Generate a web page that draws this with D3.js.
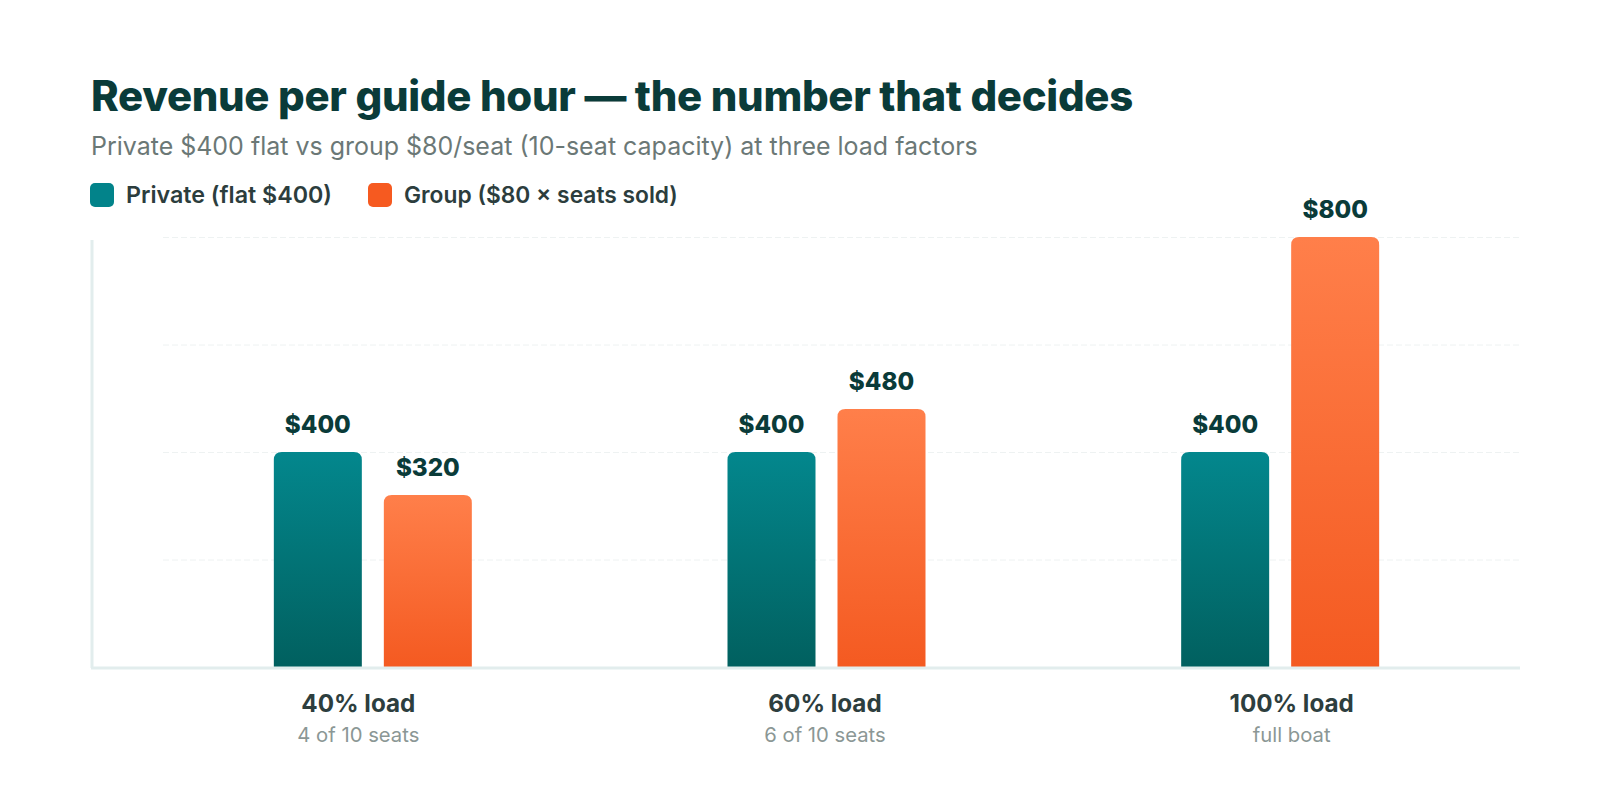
<!DOCTYPE html>
<html>
<head>
<meta charset="utf-8">
<script src="https://cdn.jsdelivr.net/npm/d3@7"></script>
<style>
  html, body { margin: 0; padding: 0; background: #ffffff; }
  svg { display: block; font-family: Inter, "Open Sans", sans-serif; }
</style>
</head>
<body>
<svg id="chart" width="1610" height="800"></svg>
<script>
// ---- data ----
const categories = ["40% load", "60% load", "100% load"];
const subLabels = ["4 of 10 seats", "6 of 10 seats", "full boat"];
const seriesNames = ["Private (flat $400)", "Group ($80 × seats sold)"];
const privateValues = [400, 400, 400];
const groupValues = [320, 480, 800];
const gridTicks = [200, 400, 600, 800];

const titleText = "Revenue per guide hour — the number that decides";
const subtitleText = "Private $400 flat vs group $80/seat (10-seat capacity) at three load factors";

const colors = {
  teal: ["#03878d", "#01605f"],
  orange: ["#ff7f4a", "#f45a21"],
  title: "#0a3b39",
  sub: "#6b7876",
  legend: "#2c3d3d",
  cat: "#2d3e3e",
  catSub: "#8b9795",
  axis: "#e2eded",
  grid: "#eef2f2"
};

const svg = d3.select("#chart");
const defs = svg.append("defs");

function grad(id, c) {
  const g = defs.append("linearGradient").attr("id", id)
    .attr("x1", 0).attr("y1", 0).attr("x2", 0).attr("y2", 1);
  g.append("stop").attr("offset", "0%").attr("stop-color", c[0]);
  g.append("stop").attr("offset", "100%").attr("stop-color", c[1]);
}
grad("gTeal", colors.teal);
grad("gOrange", colors.orange);

function fitSize(sel, target) {
  const fs = parseFloat(sel.attr("font-size"));
  const w = sel.node().getComputedTextLength();
  return w > 0 ? fs * target / w : fs;
}
function fit(sel, target) {
  sel.attr("font-size", fitSize(sel, target).toFixed(2));
  return sel;
}

// ---- header ----
fit(svg.append("text").attr("x", 91).attr("y", 111)
  .attr("font-size", 39).attr("font-weight", 800).attr("fill", colors.title)
  .attr("letter-spacing", -0.3)
  .text(titleText), 1041);

fit(svg.append("text").attr("x", 91).attr("y", 155)
  .attr("font-size", 22).attr("font-weight", 400).attr("fill", colors.sub)
  .text(subtitleText), 887);

// ---- legend ----
const legendItems = [
  { name: seriesNames[0], color: "#02838a", x: 90, w: 206 },
  { name: seriesNames[1], color: "#f65a20", x: 368, w: 274 }
];
legendItems.forEach(it => {
  svg.append("rect").attr("x", it.x).attr("y", 183).attr("width", 24).attr("height", 24)
    .attr("rx", 5).attr("fill", it.color);
  fit(svg.append("text").attr("x", it.x + 36).attr("y", 203)
    .attr("font-size", 21).attr("font-weight", 600).attr("fill", colors.legend)
    .text(it.name), it.w);
});

// ---- scales ----
const y = d3.scaleLinear().domain([0, 800]).range([667, 237]);
const x0 = d3.scaleBand().domain(categories).range([146, 1507]);
const x1 = d3.scaleBand().domain(["private", "group"]).range([0, 198]).paddingInner(0.2);
const xLabel = d3.scaleBand().domain(categories).range([125, 1525]);

// gridlines
svg.append("g").selectAll("line").data(gridTicks).join("line")
  .attr("x1", 163).attr("x2", 1520)
  .attr("y1", d => y(d) + 0.5).attr("y2", d => y(d) + 0.5)
  .attr("stroke", colors.grid).attr("stroke-width", 1)
  .attr("stroke-dasharray", "6,3");

// axes lines
svg.append("line").attr("x1", 92).attr("x2", 92).attr("y1", 240).attr("y2", 668)
  .attr("stroke", colors.axis).attr("stroke-width", 3);

// ---- bars ----
const rows = categories.map((c, i) => ({ cat: c, private: privateValues[i], group: groupValues[i] }));
const barR = 8;
function barPath(x, w, yTop, yBot, r) {
  return `M${x},${yBot} L${x},${yTop + r} Q${x},${yTop} ${x + r},${yTop} L${x + w - r},${yTop} Q${x + w},${yTop} ${x + w},${yTop + r} L${x + w},${yBot} Z`;
}
const gBars = svg.append("g");
let valueFs = null;
rows.forEach(r => {
  ["private", "group"].forEach(k => {
    const bx = x0(r.cat) + (x0.bandwidth() - 198) / 2 + x1(k);
    const bw = x1.bandwidth();
    gBars.append("path")
      .attr("d", barPath(bx, bw, y(r[k]), y(0), barR))
      .attr("fill", k === "private" ? "url(#gTeal)" : "url(#gOrange)");
    const t = gBars.append("text")
      .attr("x", bx + bw / 2).attr("y", y(r[k]) - 19)
      .attr("text-anchor", "middle")
      .attr("font-size", 22).attr("font-weight", 800).attr("fill", colors.title)
      .text("$" + r[k]);
    if (valueFs === null) valueFs = fitSize(t, 66);
    t.attr("font-size", valueFs.toFixed(2));
  });
});

// baseline
svg.append("line").attr("x1", 91).attr("x2", 1520).attr("y1", 668).attr("y2", 668)
  .attr("stroke", colors.axis).attr("stroke-width", 3);

// ---- category labels ----
let catFs = null, subFs = null;
categories.forEach((c, i) => {
  const cx = xLabel(c) + xLabel.bandwidth() / 2;
  const t1 = svg.append("text").attr("x", cx).attr("y", 712).attr("text-anchor", "middle")
    .attr("font-size", 22).attr("font-weight", 700).attr("fill", colors.cat).text(c);
  if (catFs === null) catFs = fitSize(t1, 114);
  t1.attr("font-size", catFs.toFixed(2));
  const t2 = svg.append("text").attr("x", cx).attr("y", 742).attr("text-anchor", "middle")
    .attr("font-size", 18).attr("font-weight", 400).attr("fill", colors.catSub).text(subLabels[i]);
  if (subFs === null) subFs = fitSize(t2, 122);
  t2.attr("font-size", subFs.toFixed(2));
});
</script>
</body>
</html>
